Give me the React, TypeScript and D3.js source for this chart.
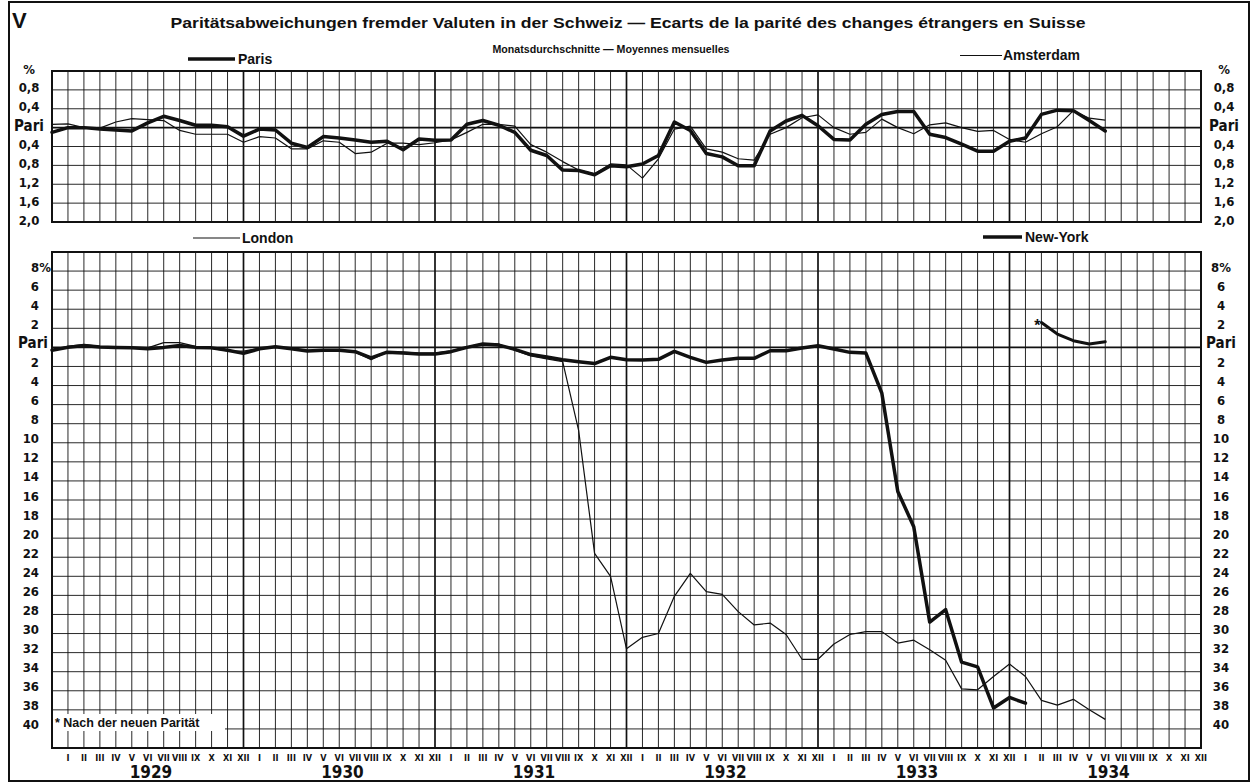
import React from "react";
import * as d3 from "d3";

// month index: 0 = XII 1928, 1 = I 1929 ... 72 = XII 1934
const monthLabels = ["I", "II", "III", "IV", "V", "VI", "VII", "VIII", "IX", "X", "XI", "XII"];
const years = [1929, 1930, 1931, 1932, 1933, 1934];

// Abweichung von der Parität in % (oberes Feld)
const paris = [
  -0.10, 0.0, 0.0, -0.03, -0.05, -0.07, 0.10, 0.24, 0.15, 0.05, 0.05, 0.02,
  -0.18, -0.03, -0.05, -0.33, -0.42, -0.19, -0.22, -0.26, -0.31, -0.29, -0.47, -0.24,
  -0.27, -0.26, 0.07, 0.15, 0.05, -0.10, -0.48, -0.59, -0.90, -0.91, -1.0, -0.81,
  -0.83, -0.77, -0.59, 0.12, -0.06, -0.55, -0.62, -0.81, -0.81, -0.07, 0.14, 0.26,
  0.04, -0.25, -0.26, 0.07, 0.28, 0.34, 0.34, -0.14, -0.21, -0.35, -0.50, -0.50,
  -0.29, -0.22, 0.28, 0.37, 0.36, 0.15, -0.07,
];
const amsterdam = [
  0.07, 0.08, 0.0, -0.01, 0.12, 0.19, 0.17, 0.15, -0.06, -0.14, -0.14, -0.14,
  -0.31, -0.19, -0.22, -0.45, -0.45, -0.28, -0.31, -0.55, -0.52, -0.33, -0.33, -0.36,
  -0.32, -0.26, -0.10, 0.07, 0.07, 0.03, -0.36, -0.52, -0.72, -0.90, -0.98, -0.77,
  -0.79, -1.07, -0.66, -0.03, 0.03, -0.45, -0.52, -0.66, -0.69, -0.14, 0.0, 0.21,
  0.27, 0.0, -0.14, -0.10, 0.18, 0.0, -0.13, 0.06, 0.10, 0.0, -0.08, -0.06,
  -0.25, -0.31, -0.13, 0.02, 0.36, 0.20, 0.16,
];

// unteres Feld
const london = [
  -0.3, 0.14, 0.3, 0.1, -0.05, -0.05, -0.05, 0.5, 0.5, 0.1, -0.1, -0.38,
  -0.4, -0.1, 0.07, -0.2, -0.3, -0.38, -0.38, -0.5, -1.3, -0.5, -0.5, -0.6,
  -0.6, -0.35, 0.05, 0.4, 0.35, -0.3, -0.9, -1.2, -1.5, -8.7, -21.6, -24.0,
  -31.6, -30.4, -30.0, -26.1, -23.7, -25.6, -25.9, -27.7, -29.1, -28.9, -30.1, -32.7,
  -32.7, -31.1, -30.1, -29.8, -29.8, -31.0, -30.7, -31.7, -32.8, -35.8, -35.9, -34.5,
  -33.2, -34.5, -37.0, -37.5, -36.9, -38.0, -39.0,
];
const newYork = [
  -0.3, 0.0, 0.2, 0.05, 0.0, -0.05, -0.15, 0.0, 0.2, 0.0, -0.05, -0.3,
  -0.63, -0.15, 0.07, -0.15, -0.38, -0.3, -0.3, -0.45, -1.1, -0.5, -0.6, -0.7,
  -0.7, -0.45, 0.0, 0.35, 0.24, -0.2, -0.75, -1.0, -1.3, -1.5, -1.7, -1.04,
  -1.3, -1.32, -1.25, -0.42, -1.04, -1.57, -1.32, -1.15, -1.15, -0.35, -0.35, -0.07,
  0.17, -0.17, -0.52, -0.6, -4.8, -15.1, -18.8, -28.8, -27.5, -33.0, -33.5, -37.8,
  -36.7, -37.3,
];
// New-York nach der neuen Parität, ab II 1934 (index 62)
const newYorkNewStart = 62;
const newYorkNew = [2.6, 1.4, 0.7, 0.35, 0.6];

const topTicks = [1.2, 0.8, 0.4, 0, -0.4, -0.8, -1.2, -1.6, -2.0];
const bottomTicks = [8, 6, 4, 2, 0, -2, -4, -6, -8, -10, -12, -14, -16, -18, -20, -22, -24, -26, -28, -30, -32, -34, -36, -38, -40];

const W = 1259;
const H = 783;
const COND = "'DejaVu Sans Condensed', 'DejaVu Sans', sans-serif";
const SANS = "'Liberation Sans', Arial, sans-serif";
const INK = "#111";

export default function App() {
  const x = d3.scaleLinear().domain([0, 72]).range([52, 1201]);
  const yTop = d3.scaleLinear().domain([1.2, -2.0]).range([71, 222]);
  const yBot = d3.scaleLinear().domain([10, -42]).range([252, 748]);

  const botGrid = d3.range(10, -43, -2);
  const monthIdx = d3.range(1, 72);

  const lineTop = (data: number[], start = 0) =>
    d3.line<number>().x((_, i) => x(i + start)).y((d) => yTop(d))(data) || "";
  const lineBot = (data: number[], start = 0) =>
    d3.line<number>().x((_, i) => x(i + start)).y((d) => yBot(d))(data) || "";

  const topLabel = (v: number) => (v === 1.2 ? "%" : v === 0 ? "Pari" : Math.abs(v).toFixed(1).replace(".", ","));
  const botLabel = (v: number) => (v === 8 ? "8%" : v === 0 ? "Pari" : String(Math.abs(v)));

  const grid = (y: d3.ScaleLinear<number, number>, values: number[]) => {
    const [y0, y1] = y.range();
    return (
      <g>
        {monthIdx.map((i) => (
          <line key={"v" + i} x1={x(i)} x2={x(i)} y1={y0} y2={y1} stroke={INK} strokeWidth={i % 12 === 0 ? 1.7 : 0.9} />
        ))}
        {values.map((v) => (
          <line key={"h" + v} x1={x(0)} x2={x(72)} y1={y(v)} y2={y(v)} stroke={INK} strokeWidth={v === 0 ? 1.8 : 0.9} />
        ))}
        <rect x={x(0)} y={y0} width={x(72) - x(0)} height={y1 - y0} fill="none" stroke={INK} strokeWidth={2} />
      </g>
    );
  };

  const cond = { fontFamily: COND, fontStretch: "condensed" as const };

  return (
    <svg width={W} height={H} style={{ position: "absolute", left: 0, top: 0, background: "#fff" }}>
      <rect x={0} y={0} width={W} height={H} fill="#fff" />
      <rect x={9} y={2} width={1240} height={779} fill="none" stroke={INK} strokeWidth={2} />

      <text x={12} y={28} fontFamily={SANS} fontWeight="bold" fontSize={22} fill={INK}>V</text>
      <text x={628} y={28} textAnchor="middle" fontFamily={SANS} fontWeight="bold" fontSize={15.5} fill={INK}
        textLength={915} lengthAdjust="spacingAndGlyphs">
        Paritätsabweichungen fremder Valuten in der Schweiz — Ecarts de la parité des changes étrangers en Suisse
      </text>
      <text x={611} y={53} textAnchor="middle" fontFamily={SANS} fontWeight="bold" fontSize={11} fill={INK}
        textLength={237} lengthAdjust="spacingAndGlyphs">
        Monatsdurchschnitte — Moyennes mensuelles
      </text>

      {/* legends */}
      <line x1={188} x2={235} y1={59} y2={59} stroke={INK} strokeWidth={3.5} />
      <text x={238} y={63.5} fontFamily={SANS} fontWeight="bold" fontSize={14} fill={INK}>Paris</text>
      <line x1={960} x2={1002} y1={55.5} y2={55.5} stroke={INK} strokeWidth={1.2} />
      <text x={1003} y={60} fontFamily={SANS} fontWeight="bold" fontSize={14} fill={INK}>Amsterdam</text>
      <line x1={193} x2={240} y1={238} y2={238} stroke={INK} strokeWidth={1.2} />
      <text x={242} y={243} fontFamily={SANS} fontWeight="bold" fontSize={14} fill={INK}>London</text>
      <line x1={983} x2={1022} y1={237} y2={237} stroke={INK} strokeWidth={3.5} />
      <text x={1025} y={242} fontFamily={SANS} fontWeight="bold" fontSize={14} fill={INK}>New-York</text>

      {/* top panel */}
      {grid(yTop, topTicks)}
      {topTicks.map((v) => (
        <g key={"tl" + v} {...cond} fontWeight="bold" fontSize={v === 0 ? 15 : 13} fill={INK} textAnchor="middle">
          <text x={29} y={yTop(v) - 2} dominantBaseline="central">{topLabel(v)}</text>
          <text x={1224} y={yTop(v) - 2} dominantBaseline="central">{topLabel(v)}</text>
        </g>
      ))}
      <path d={lineTop(amsterdam)} fill="none" stroke={INK} strokeWidth={1.2} strokeLinejoin="round" />
      <path d={lineTop(paris)} fill="none" stroke={INK} strokeWidth={3.5} strokeLinejoin="round" strokeLinecap="round" />

      {/* bottom panel */}
      {grid(yBot, botGrid)}
      {bottomTicks.map((v) => (
        <g key={"bl" + v} {...cond} fontWeight="bold" fontSize={v === 0 ? 15 : 13} fill={INK}>
          <text x={v === 8 ? 31 : v === 0 ? 33 : 39} y={yBot(v) - 4} dominantBaseline="central"
            textAnchor={v === 8 ? "start" : v === 0 ? "middle" : "end"}>{botLabel(v)}</text>
          <text x={1221} y={yBot(v) - 4} dominantBaseline="central" textAnchor="middle">{botLabel(v)}</text>
        </g>
      ))}
      <path d={lineBot(london)} fill="none" stroke={INK} strokeWidth={1.2} strokeLinejoin="round" />
      <path d={lineBot(newYork)} fill="none" stroke={INK} strokeWidth={3.5} strokeLinejoin="round" strokeLinecap="round" />
      <path d={lineBot(newYorkNew, newYorkNewStart)} fill="none" stroke={INK} strokeWidth={3} strokeLinejoin="round"
        strokeLinecap="round" />
      <text x={x(newYorkNewStart) - 4} y={yBot(newYorkNew[0]) + 8} textAnchor="middle" fontFamily={SANS}
        fontWeight="bold" fontSize={16} fill={INK}>*</text>

      <rect x={53} y={714} width={172} height={17} fill="#fff" />
      <text x={55} y={727} fontFamily={SANS} fontWeight="bold" fontSize={12.5} fill={INK}>* Nach der neuen Parität</text>

      {/* month and year labels */}
      {d3.range(1, 73).map((i) => (
        <text key={"m" + i} x={x(i)} y={757.5} textAnchor="middle" dominantBaseline="central" {...cond}
          fontWeight="bold" fontSize={9} fill={INK}>{monthLabels[(i - 1) % 12]}</text>
      ))}
      {years.map((yr, k) => (
        <text key={yr} x={x(k * 12 + 6.2)} y={772} textAnchor="middle" dominantBaseline="central" {...cond}
          fontWeight="bold" fontSize={17} fill={INK}>{yr}</text>
      ))}
    </svg>
  );
}
